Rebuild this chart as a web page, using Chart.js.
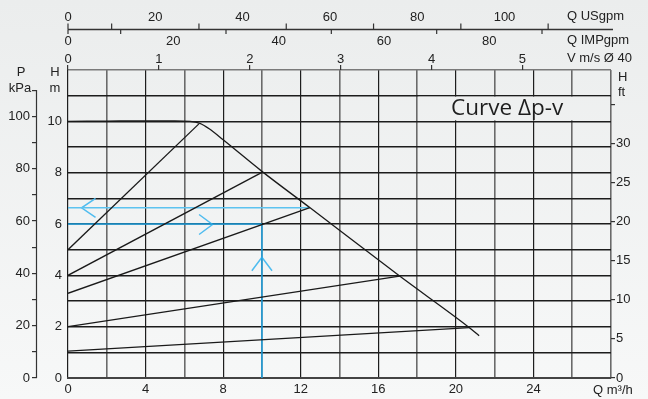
<!DOCTYPE html>
<html><head><meta charset="utf-8">
<script src="https://cdn.jsdelivr.net/npm/chart.js@4.4.1/dist/chart.umd.min.js"></script>
<style>html,body{margin:0;padding:0;background:#f1f2f2;}canvas{display:block;}</style>
</head><body>
<canvas id="c" width="648" height="399"></canvas>
<script>
// ---- data ----
const maxCurveQ = [0, 2, 4, 5.5, 6.3, 6.8, 7.3, 8, 10, 12.5, 17.1, 20.7, 21.2];
const maxCurveH = [10.0, 10.01, 10.02, 10.02, 10.0, 9.92, 9.7, 9.28, 8.05, 6.62, 3.97, 1.96, 1.65];

const dpvStartH = [5.0, 4.0, 3.3, 2.0, 1.05];
const dpvEndQ   = [6.75, 10.05, 12.47, 17.1, 20.7];
const dpvEndH   = [9.9, 8.03, 6.64, 3.97, 1.96];

const blueUpperQ = [0, 12.47], blueUpperH = [6.63, 6.63];
const blueLowerQ = [0, 10],    blueLowerH = [6.0, 6.0];
const blueVertQ  = [10, 10],   blueVertH  = [0, 6.0];
const arrowLeftQ  = [1.42, 0.7, 1.42],  arrowLeftH  = [7.0, 6.63, 6.26];
const arrowRightQ = [6.76, 7.45, 6.76], arrowRightH = [6.37, 5.98, 5.59];
const arrowUpQ    = [9.48, 10, 10.52],  arrowUpH    = [4.18, 4.7, 4.18];

// tick labels
const flowLabels   = [0, 4, 8, 12, 16, 20, 24];
const headLabels   = [0, 2, 4, 6, 8, 10];
const kpaLabels    = [0, 20, 40, 60, 80, 100];
const ftLabels     = [0, 5, 10, 15, 20, 25, 30];
const usgpmLabels  = [0, 20, 40, 60, 80, 100];
const usgpmMinor   = [0, 10, 30, 50, 70, 90, 110];
const impLabels    = [0, 20, 40, 60, 80];
const impMinor     = [0, 10, 30, 50, 70, 90];
const velLabels    = [0, 1, 2, 3, 4, 5];

const range = (a, b, s) => { const r = []; for (let v = a; v <= b + 1e-9; v += s) r.push(+v.toFixed(6)); return r; };
const pts = (qs, hs) => qs.map((q, i) => ({ x: q, y: hs[i] }));

Chart.defaults.font.family = "'Liberation Sans', Arial, sans-serif";
Chart.defaults.font.size = 13;
Chart.defaults.color = '#222';

const black = { borderColor: '#1a1a1a', borderWidth: 1.3, pointRadius: 0, fill: false, tension: 0 };
const datasets = [
  Object.assign({ data: pts(maxCurveQ, maxCurveH), cubicInterpolationMode: 'monotone' }, black, { tension: 0.4 }),
];
dpvStartH.forEach((h, i) => datasets.push(Object.assign({ data: pts([0, dpvEndQ[i]], [h, dpvEndH[i]]) }, black)));
const blue = (q, h, col) => ({ data: pts(q, h), borderColor: col, borderWidth: 1.5, pointRadius: 0, fill: false, tension: 0 });
datasets.push(blue(blueUpperQ, blueUpperH, '#5cc3f0'));
datasets.push(blue(blueLowerQ, blueLowerH, '#1ca2e2'));
datasets.push(blue(blueVertQ, blueVertH, '#1ca2e2'));
datasets.push(blue(arrowLeftQ, arrowLeftH, '#4fbcef'));
datasets.push(blue(arrowRightQ, arrowRightH, '#4fbcef'));
datasets.push(blue(arrowUpQ, arrowUpH, '#4fbcef'));

function bgGradient(ctx, h) {
  const g = ctx.createLinearGradient(0, 0, 0, h);
  g.addColorStop(0, '#ebeded');
  g.addColorStop(1, '#f7f8f8');
  return g;
}

const decor = {
  id: 'decor',
  beforeDraw(chart) {
    const { ctx, width, height } = chart;
    ctx.save();
    ctx.fillStyle = bgGradient(ctx, height);
    ctx.fillRect(0, 0, width, height);
    ctx.restore();
  },
  beforeDatasetsDraw(chart) {
    const { ctx, chartArea, scales } = chart;
    const x = scales.x, y = scales.y;
    ctx.save();
    // text box
    const bx1 = x.getPixelForValue(18) + 1.2, bx2 = chartArea.right - 1;
    const by1 = y.getPixelForValue(11) + 1, by2 = y.getPixelForValue(10) - 1;
    ctx.fillStyle = bgGradient(ctx, chart.height);
    ctx.fillRect(bx1, by1, bx2 - bx1, by2 - by1);
    ctx.fillStyle = '#1e1e1e';
    ctx.font = "22.5px 'Open Sans', 'Noto Sans', sans-serif";
    ctx.textAlign = 'center';
    ctx.textBaseline = 'middle';
    ctx.fillText('Curve \u0394p-v', (bx1 + bx2) / 2 - 7, (by1 + by2) / 2);
    ctx.restore();
  },
  afterDraw(chart) {
    const { ctx, chartArea, scales } = chart;
    ctx.save();
    ctx.strokeStyle = '#333';
    ctx.lineWidth = 1.2;
    // kPa axis line
    const kp = scales.yP;
    ctx.beginPath();
    ctx.moveTo(kp.right - 0.5, kp.getPixelForValue(0));
    ctx.lineTo(kp.right - 0.5, kp.getPixelForValue(110));
    ctx.stroke();
    // US / IMP gpm axis line and ticks
    const us = scales.xUs, imp = scales.xImp;
    const ly = 29.5;
    ctx.lineWidth = 1.5;
    ctx.beginPath();
    ctx.moveTo(chartArea.left, ly);
    ctx.lineTo(chartArea.right + 2, ly);
    ctx.stroke();
    ctx.lineWidth = 1.2;
    usgpmMinor.forEach(v => {
      const px = us.getPixelForValue(v);
      ctx.beginPath(); ctx.moveTo(px, ly); ctx.lineTo(px, ly - 6); ctx.stroke();
    });
    impMinor.forEach(v => {
      const px = imp.getPixelForValue(v);
      ctx.beginPath(); ctx.moveTo(px, ly); ctx.lineTo(px, ly + 4.5); ctx.stroke();
    });
    // axis titles
    ctx.fillStyle = '#222';
    ctx.font = "13px 'Liberation Sans', Arial, sans-serif";
    ctx.textBaseline = 'middle';
    ctx.textAlign = 'left';
    ctx.fillText('Q USgpm', 567, 16);
    ctx.fillText('Q IMPgpm', 567, 40);
    ctx.fillText('V m/s \u00D8 40', 567, 58);
    ctx.fillText('H', 618, 77);
    ctx.fillText('ft', 618, 92);
    ctx.fillText('Q m\u00B3/h', 593, 390);
    ctx.textAlign = 'center';
    ctx.fillText('P', 21, 72);
    ctx.fillText('kPa', 20, 88);
    ctx.fillText('H', 55, 72);
    ctx.fillText('m', 55, 88);
    ctx.restore();
  }
};

new Chart(document.getElementById('c'), {
  type: 'line',
  data: { datasets },
  plugins: [decor],
  options: {
    responsive: false,
    devicePixelRatio: 1,
    animation: false,
    events: [],
    layout: { padding: 0 },
    plugins: { legend: { display: false }, tooltip: { enabled: false } },
    scales: {
      x: {
        type: 'linear', position: 'bottom', min: 0, max: 28,
        afterBuildTicks: s => { s.ticks = range(0, 28, 2).map(v => ({ value: v })); },
        ticks: { autoSkip: false, maxRotation: 0, padding: 4, callback: v => flowLabels.includes(v) ? String(v) : '' },
        grid: {
          drawTicks: false,
          color: c => (c.tick && c.tick.value % 4 === 0 && c.tick.value < 28) ? '#1e1e1e' : '#6a6a6a',
          lineWidth: c => (c.tick && c.tick.value % 4 === 0 && c.tick.value < 28) ? 1.2 : 1.6
        },
        border: { display: true, color: '#444', width: 2 },
        afterFit: s => { s.height = 21; }
      },
      y: {
        type: 'linear', position: 'left', weight: 0, min: 0, max: 12,
        afterBuildTicks: s => { s.ticks = range(0, 12, 1).map(v => ({ value: v })); },
        ticks: { autoSkip: false, padding: 6, callback: v => headLabels.includes(v) ? String(v) : '' },
        grid: {
          drawTicks: false,
          color: c => c.tick && c.tick.value === 12 ? '#7a7a7a' : '#1c1c1c',
          lineWidth: 1.6
        },
        border: { display: false },
        afterFit: s => { s.width = 31; }
      },
      yP: {
        type: 'linear', position: 'left', weight: 1, min: 0, max: 12 * 9.80665,
        afterBuildTicks: s => { s.ticks = range(0, 110, 10).map(v => ({ value: v })); },
        ticks: { autoSkip: false, padding: 2, callback: v => kpaLabels.includes(v) ? String(v) : '' },
        grid: { drawOnChartArea: false, drawTicks: true, tickLength: 5, color: '#333', lineWidth: 1.2 },
        border: { display: false },
        afterFit: s => { s.width = 37; }
      },
      yFt: {
        type: 'linear', position: 'right', min: 0, max: 12 * 3.28084,
        afterBuildTicks: s => { s.ticks = range(0, 35, 5).map(v => ({ value: v })); },
        ticks: { autoSkip: false, padding: 1, callback: v => ftLabels.includes(v) ? String(v) : '' },
        grid: { drawOnChartArea: false, drawTicks: true, tickLength: 4, color: '#333', lineWidth: 1.2 },
        border: { display: false },
        afterFit: s => { s.width = 37; }
      },
      xV: {
        type: 'linear', position: 'top', weight: 0, min: 0, max: 5.975,
        afterBuildTicks: s => { s.ticks = velLabels.map(v => ({ value: v })); },
        ticks: { autoSkip: false, maxRotation: 0, padding: -2 },
        grid: { drawOnChartArea: false, drawTicks: true, tickLength: 5, color: '#333', lineWidth: 1.2 },
        border: { display: false },
        afterFit: s => { s.height = 22; }
      },
      xImp: {
        type: 'linear', position: 'top', weight: 1, min: 0, max: 103.1,
        afterBuildTicks: s => { s.ticks = impLabels.map(v => ({ value: v })); },
        ticks: { autoSkip: false, maxRotation: 0, padding: -1 },
        grid: { display: false, drawTicks: false },
        border: { display: false },
        afterFit: s => { s.height = 19; }
      },
      xUs: {
        type: 'linear', position: 'top', weight: 2, min: 0, max: 124.4,
        afterBuildTicks: s => { s.ticks = usgpmLabels.map(v => ({ value: v })); },
        ticks: { autoSkip: false, maxRotation: 0, padding: 4 },
        grid: { display: false, drawTicks: false },
        border: { display: false },
        afterFit: s => { s.height = 29; }
      }
    }
  }
});
</script>
</body></html>
